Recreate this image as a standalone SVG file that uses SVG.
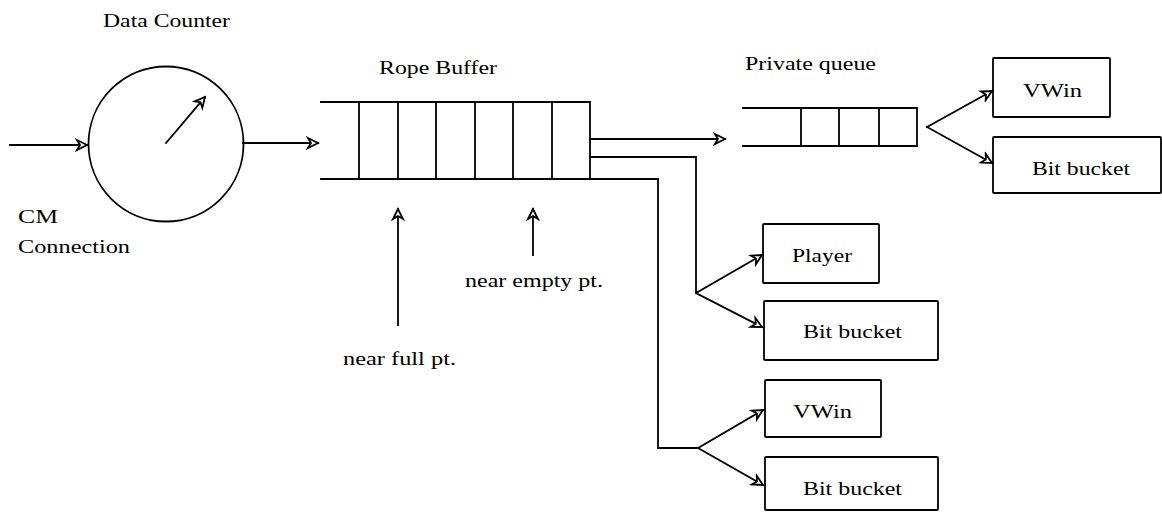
<svg xmlns="http://www.w3.org/2000/svg" width="1162" height="512" viewBox="0 0 1162 512">
<style>
.s{fill:none;stroke:#000;stroke-width:1.8;stroke-linecap:square}
.b{fill:#fff;stroke:#000;stroke-width:1.8}
.t{font-family:"Liberation Serif","Times New Roman",serif;font-size:19px;fill:#000}
</style>
<defs>
<marker id="ah" viewBox="-12 -7 14 14" refX="0" refY="0" markerWidth="14" markerHeight="14" markerUnits="userSpaceOnUse" orient="auto">
<path d="M-10,-5 L0,0 L-10,5 L-7,0 Z" fill="#fff" stroke="#000" stroke-width="1.8" stroke-linejoin="miter"/>
</marker>
</defs>
<rect width="1162" height="512" fill="#fff"/>

<g id="data-counter">
<circle cx="166" cy="144" r="77.5" class="s"/>
<text class="t" x="103" y="27" textLength="127" lengthAdjust="spacingAndGlyphs">Data Counter</text>
</g>

<g id="cm-connection">
<text class="t" x="18" y="223" textLength="40" lengthAdjust="spacingAndGlyphs">CM</text>
<text class="t" x="18" y="253" textLength="112" lengthAdjust="spacingAndGlyphs">Connection</text>
</g>

<g id="rope-buffer">
<text class="t" x="379" y="74" textLength="118" lengthAdjust="spacingAndGlyphs">Rope Buffer</text>
<path class="s" d="M321,102 H590 V179 H321 M359,102 V179 M398,102 V179 M436,102 V179 M475,102 V179 M513,102 V179 M552,102 V179"/>
</g>

<g id="private-queue">
<text class="t" x="745" y="70" textLength="131" lengthAdjust="spacingAndGlyphs">Private queue</text>
<path class="s" d="M743,108 H917 V146 H743 M801,108 V146 M839,108 V146 M879,108 V146"/>
</g>

<g id="near-full">
<text class="t" x="343" y="365" textLength="113" lengthAdjust="spacingAndGlyphs">near full pt.</text>
</g>
<g id="near-empty">
<text class="t" x="465" y="287" textLength="138" lengthAdjust="spacingAndGlyphs">near empty pt.</text>
</g>

<g id="vwin-top">
<rect class="b" x="993" y="58" width="117" height="59" rx="1"/>
<text class="t" x="1023" y="97" textLength="59" lengthAdjust="spacingAndGlyphs">VWin</text>
</g>
<g id="bitbucket-top">
<rect class="b" x="993" y="137" width="168" height="56" rx="1"/>
<text class="t" x="1032" y="175" textLength="98" lengthAdjust="spacingAndGlyphs">Bit bucket</text>
</g>
<g id="player">
<rect class="b" x="763" y="224" width="116" height="59" rx="1"/>
<text class="t" x="792" y="262" textLength="60" lengthAdjust="spacingAndGlyphs">Player</text>
</g>
<g id="bitbucket-mid">
<rect class="b" x="764" y="301" width="174" height="59" rx="1"/>
<text class="t" x="803" y="338" textLength="99" lengthAdjust="spacingAndGlyphs">Bit bucket</text>
</g>
<g id="vwin-bottom">
<rect class="b" x="765" y="380" width="116" height="57" rx="1"/>
<text class="t" x="793" y="418" textLength="59" lengthAdjust="spacingAndGlyphs">VWin</text>
</g>
<g id="bitbucket-bottom">
<rect class="b" x="765" y="457" width="173" height="53" rx="1"/>
<text class="t" x="803" y="495" textLength="99" lengthAdjust="spacingAndGlyphs">Bit bucket</text>
</g>

<g id="connectors">
<path class="s" d="M10,145 H87" marker-end="url(#ah)"/>
<path class="s" d="M166,143 L205,97" marker-end="url(#ah)"/>
<path class="s" d="M243,143 H318" marker-end="url(#ah)"/>
<path class="s" d="M590,139 H725" marker-end="url(#ah)"/>
<path class="s" d="M590,157 H696 V293"/>
<path class="s" d="M590,179 H658 V448 H698"/>
<path class="s" d="M696,293 L762,255" marker-end="url(#ah)"/>
<path class="s" d="M696,293 L762,327" marker-end="url(#ah)"/>
<path class="s" d="M698,448 L763,410" marker-end="url(#ah)"/>
<path class="s" d="M698,448 L763,485" marker-end="url(#ah)"/>
<path class="s" d="M927,127 L992,91" marker-end="url(#ah)"/>
<path class="s" d="M927,127 L992,163" marker-end="url(#ah)"/>
<path class="s" d="M398,325 V209" marker-end="url(#ah)"/>
<path class="s" d="M533,255 V209" marker-end="url(#ah)"/>
</g>
</svg>
